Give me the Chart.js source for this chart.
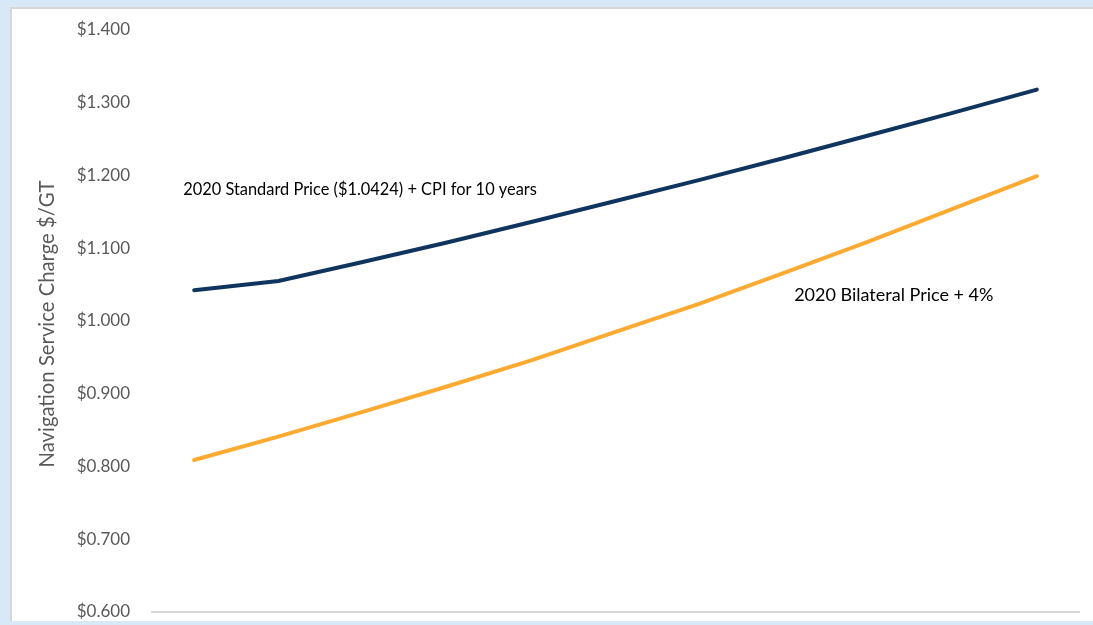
<!DOCTYPE html>
<html>
<head>
<meta charset="utf-8">
<script src="https://cdn.jsdelivr.net/npm/chart.js@4/dist/chart.umd.min.js"></script>
<style>
  html, body { margin:0; padding:0; width:1093px; height:625px; overflow:hidden; background:#d9e8f7; }
  #panel { position:absolute; left:10px; top:7px; width:1090px; height:614px; background:#ffffff;
           border-left:2px solid #d6d6d6; border-top:2px solid #d6d6d6; box-sizing:border-box; }
  #wrap { position:absolute; left:0; top:0; width:1093px; height:625px; }
</style>
</head>
<body>
<div id="panel"></div>
<div id="wrap"><canvas id="c" width="1093" height="625"></canvas></div>
<script>
const categories = ["2020","2021","2022","2023","2024","2025","2026","2027","2028","2029","2030"];
const standardPrice = [1.0424, 1.055, 1.081, 1.108, 1.136, 1.165, 1.194, 1.224, 1.255, 1.286, 1.318];
const bilateralPrice = [0.809, 0.841, 0.875, 0.910, 0.946, 0.985, 1.024, 1.066, 1.109, 1.154, 1.199];
const yTicks = [0.6, 0.7, 0.8, 0.9, 1.0, 1.1, 1.2, 1.3, 1.4];
const yTitle = "Navigation Service Charge $/GT";
const annotations = [
  { text: "2020 Standard Price ($1.0424) + CPI for 10 years", x: -0.13, y: 1.180, size: 16.4 },
  { text: "2020 Bilateral Price + 4%", x: 7.12, y: 1.036, size: 18 }
];

const FONT = "Lato, 'Open Sans', sans-serif";

const overlay = {
  id: 'overlay',
  afterDraw(chart) {
    const ctx = chart.ctx;
    const xs = chart.scales.x, ys = chart.scales.y;
    ctx.save();
    ctx.fillStyle = '#595959';
    ctx.font = "20.3px " + FONT;
    ctx.textAlign = 'center';
    ctx.textBaseline = 'middle';
    ctx.translate(47, (ys.top + ys.bottom) / 2 + 3);
    ctx.rotate(-Math.PI / 2);
    ctx.fillText(yTitle, 0, 0);
    ctx.restore();
    ctx.save();
    ctx.fillStyle = '#000000';
    ctx.textAlign = 'left';
    ctx.textBaseline = 'middle';
    annotations.forEach(a => {
      ctx.font = a.size + "px " + FONT;
      ctx.fillText(a.text, xs.getPixelForValue(a.x), ys.getPixelForValue(a.y));
    });
    ctx.restore();
  }
};

new Chart(document.getElementById('c'), {
  type: 'line',
  data: {
    labels: categories,
    datasets: [
      { label: 'Standard', data: standardPrice, borderColor: '#0f355f', borderWidth: 4,
        pointRadius: 0, tension: 0, fill: false, borderCapStyle: 'round' },
      { label: 'Bilateral', data: bilateralPrice, borderColor: '#fcaa32', borderWidth: 4,
        pointRadius: 0, tension: 0, fill: false, borderCapStyle: 'round' }
    ]
  },
  options: {
    responsive: false,
    animation: false,
    devicePixelRatio: 1,
    layout: { padding: { left: 0, right: 14, top: 30, bottom: 13 } },
    plugins: { legend: { display: false }, tooltip: { enabled: false } },
    scales: {
      x: {
        offset: true,
        afterFit(scale) { scale.height = 0; scale.paddingLeft = 0; scale.paddingRight = 0; },
        grid: { display: false, drawTicks: false },
        border: { display: true, color: '#d9d9d9', width: 2 },
        ticks: { display: false, padding: 0 }
      },
      y: {
        min: 0.6, max: 1.4,
        afterFit(scale) { scale.width = 152; scale.paddingTop = 0; scale.paddingBottom = 0; },
        afterBuildTicks(scale) { scale.ticks = yTicks.map(v => ({ value: v })); },
        grid: { display: false, drawTicks: false },
        border: { display: false },
        ticks: {
          padding: 22,
          color: '#595959',
          font: { family: FONT, size: 17 },
          callback: v => '$' + Number(v).toFixed(3)
        }
      }
    }
  },
  plugins: [overlay]
});
</script>
</body>
</html>
